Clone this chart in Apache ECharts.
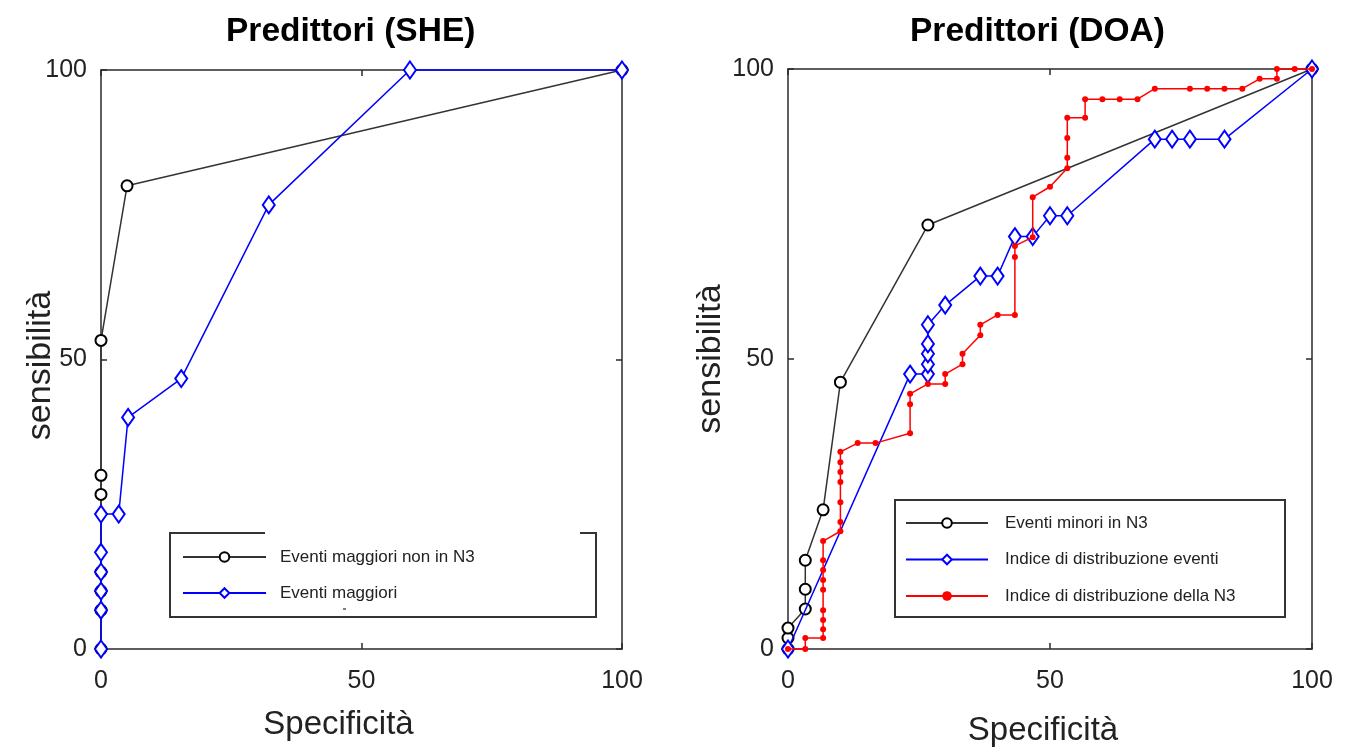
<!DOCTYPE html>
<html>
<head>
<meta charset="utf-8">
<title>Predittori</title>
<script src="https://cdn.jsdelivr.net/npm/echarts@6/dist/echarts.min.js"></script>
<style>
  html, body { margin: 0; padding: 0; background: #fff; }
  #chart { width: 1354px; height: 753px; }
</style>
</head>
<body>
<div id="chart"></div>
<script>
// valori: [specificità, sensibilità]
var assiTicks = [0, 50, 100];

var sheNonN3 = [[0,0],[0,6.7],[0,10],[0,13.3],[0,26.7],[0,30],[0,53.3],[5,80],[100,100]];
var sheMaggiori = [[0,0],[0,6.7],[0,10],[0,13.3],[0,16.7],[0,23.3],[3.4,23.3],[5.2,40],[15.4,46.7],[32.2,76.7],[59.3,100],[100,100]];

var doaMinori = [[0,0],[0,1.9],[0,3.6],[3.3,6.9],[3.3,10.3],[3.3,15.3],[6.7,24],[10,46],[26.7,73.1],[100,100]];
var doaEventi = [[0,0],[23.3,47.4],[26.7,47.4],[26.7,49.1],[26.7,50.9],[26.7,52.6],[26.7,55.9],[30,59.3],
  [36.7,64.3],[40,64.3],[43.3,71.1],[46.7,71.1],[50,74.7],[53.3,74.7],[70,87.9],[73.3,87.9],[76.7,87.9],[83.3,87.9],[100,100]];
var doaN3 = [[0,0],[3.3,0],[3.3,1.9],[6.7,1.9],[6.7,3.4],[6.7,5],[6.7,6.7],[6.7,10.2],[6.7,11.9],[6.7,13.6],
  [6.7,15.3],[6.7,18.6],[10,20.3],[10,21.9],[10,25.3],[10,28.8],[10,30.5],[10,32.2],[10,34],[13.3,35.5],
  [16.7,35.5],[23.3,37.2],[23.3,42.2],[23.3,44],[26.7,45.7],[30,45.7],[30,47.4],[33.3,49.1],[33.3,50.9],
  [36.7,54.1],[36.7,55.9],[40,57.6],[43.3,57.6],[43.3,67.6],[43.3,69.5],[46.7,71],[46.7,77.9],[50,79.7],
  [53.3,82.9],[53.3,84.7],[53.3,88.1],[53.3,91.6],[56.7,91.6],[56.7,94.8],[60,94.8],[63.3,94.8],[66.7,94.8],
  [70,96.6],[76.7,96.6],[80,96.6],[83.3,96.6],[86.7,96.6],[90,98.3],[93.3,98.3],[93.3,100],[96.7,100],[100,100]];

var FONT = 'Liberation Sans, Arial, sans-serif';
var AXIS_COL = '#2a2a2a';

var myChart = echarts.init(document.getElementById('chart'));

// asse con bordo tipo matlab: tick interni su tutti i lati
function asse(dir, grid, pos, withLabel, name, nameGap, namePad) {
  var a = {
    type: 'value',
    gridIndex: grid,
    position: pos,
    min: assiTicks[0],
    max: assiTicks[assiTicks.length - 1],
    interval: assiTicks[1] - assiTicks[0],
    splitLine: { show: false },
    axisLine: { show: true, onZero: false, lineStyle: { color: AXIS_COL, width: 1.5 } },
    axisTick: { show: true, inside: true, length: 6, lineStyle: { color: AXIS_COL, width: 1.5 } },
    axisLabel: {
      show: withLabel,
      fontFamily: FONT,
      fontSize: 25,
      color: '#222',
      margin: dir === 'x' ? 20 : 14
    }
  };
  if (name) {
    a.name = name;
    a.nameLocation = 'middle';
    a.nameGap = nameGap;
    a.nameMoveOverlap = false;
    a.nameTextStyle = {
      fontFamily: FONT,
      fontSize: dir === 'x' ? 33 : 34,
      color: '#222',
      padding: namePad || 0
    };
  }
  return a;
}

function serieNera(name, data, xi) {
  return {
    name: name, type: 'line', data: data, xAxisIndex: xi, yAxisIndex: xi, clip: false,
    symbol: 'emptyCircle', symbolSize: 11,
    lineStyle: { color: '#333', width: 1.5 },
    itemStyle: { color: '#000', borderColor: '#000', borderWidth: 2 },
    z: 3
  };
}
function serieBlu(name, data, xi) {
  return {
    name: name, type: 'line', data: data, xAxisIndex: xi, yAxisIndex: xi, clip: false,
    symbol: 'diamond', symbolSize: [12, 17],
    lineStyle: { color: '#0000ff', width: 1.5 },
    itemStyle: { color: '#ffffff', borderColor: '#0000ff', borderWidth: 2 },
    z: 4
  };
}

var option = {
  backgroundColor: '#fff',
  animation: false,
  title: [
    { text: 'Predittori (SHE)', left: 221, top: 10,
      textStyle: { fontFamily: FONT, fontSize: 33.5, fontWeight: 'bold', color: '#000' } },
    { text: 'Predittori (DOA)', left: 905, top: 10,
      textStyle: { fontFamily: FONT, fontSize: 33.5, fontWeight: 'bold', color: '#000' } }
  ],
  grid: [
    { left: 101, top: 70, width: 521, height: 579 },
    { left: 788, top: 69, width: 524, height: 580 }
  ],
  xAxis: [
    asse('x', 0, 'bottom', true, 'Specificità', 59, [0, 46, 0, 0]),
    asse('x', 0, 'top', false),
    asse('x', 1, 'bottom', true, 'Specificità', 65, [0, 14, 0, 0]),
    asse('x', 1, 'top', false)
  ],
  yAxis: [
    asse('y', 0, 'left', true, 'sensibilità', 43, [0, 12, 0, 0]),
    asse('y', 0, 'right', false),
    asse('y', 1, 'left', true, 'sensibilità', 60, [0, 0, 0, 0]),
    asse('y', 1, 'right', false)
  ],
  legend: [
    {
      data: ['Eventi maggiori non in N3', 'Eventi maggiori'],
      orient: 'vertical', left: 177, top: 543,
      itemWidth: 83, itemHeight: 12, itemGap: 18,
      textStyle: { fontFamily: FONT, fontSize: 17, lineHeight: 18, color: '#222', padding: [0, 0, 0, 9] },
      z: 6
    },
    {
      data: ['Eventi minori in N3', 'Indice di distribuzione eventi', 'Indice di distribuzione della N3'],
      orient: 'vertical', left: 900, top: 509,
      itemWidth: 82, itemHeight: 12, itemGap: 18.5,
      textStyle: { fontFamily: FONT, fontSize: 17, lineHeight: 18, color: '#222', padding: [0, 0, 0, 12] },
      z: 6
    }
  ],
  graphic: [
    // riquadro legenda sinistra (bordo superiore interrotto come nell'originale)
    { type: 'rect', shape: { x: 170, y: 533, width: 426, height: 84 },
      style: { fill: '#fff', stroke: null }, z: 5 },
    { type: 'polyline', shape: { points: [[265, 533], [170, 533], [170, 617], [596, 617], [596, 533], [580, 533]] },
      style: { stroke: '#333', lineWidth: 2, fill: null }, z: 5 },
    { type: 'line', shape: { x1: 343, y1: 609, x2: 346, y2: 609 }, style: { stroke: '#555', lineWidth: 1.5 }, z: 5 },
    // riquadro legenda destra
    { type: 'rect', shape: { x: 895, y: 500, width: 390, height: 117 },
      style: { fill: '#fff', stroke: '#333', lineWidth: 2 }, z: 5 }
  ],
  series: [
    serieNera('Eventi maggiori non in N3', sheNonN3, 0),
    serieBlu('Eventi maggiori', sheMaggiori, 0),
    serieNera('Eventi minori in N3', doaMinori, 2),
    serieBlu('Indice di distribuzione eventi', doaEventi, 2),
    {
      name: 'Indice di distribuzione della N3', type: 'line', data: doaN3, xAxisIndex: 2, yAxisIndex: 2, clip: false,
      symbol: 'circle', symbolSize: 6,
      lineStyle: { color: '#ff0000', width: 1.5 },
      itemStyle: { color: '#ff0000' },
      z: 5
    }
  ]
};

myChart.setOption(option);
</script>
</body>
</html>
